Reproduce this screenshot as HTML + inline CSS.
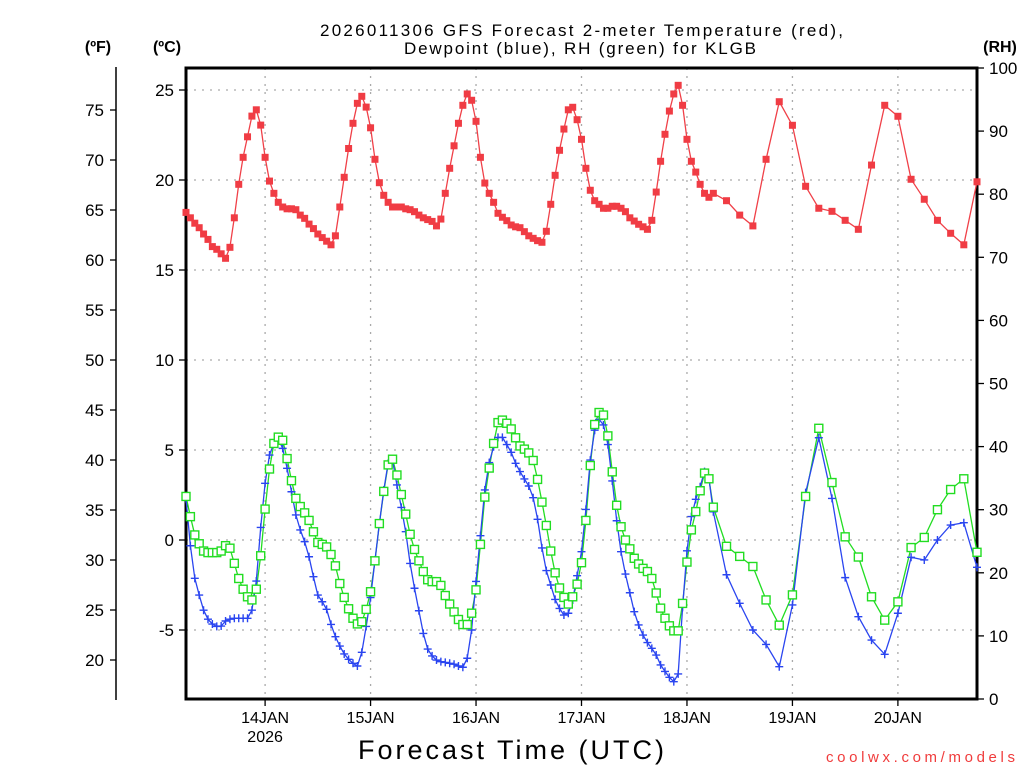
<!DOCTYPE html>
<html><head><meta charset="utf-8"><style>
html,body{margin:0;padding:0;background:#fff;}
svg{display:block;font-family:"Liberation Sans",sans-serif;}
</style></head><body>
<svg id="chart" width="1024" height="768" viewBox="0 0 1024 768">
<text x="320" y="36" font-size="17" textLength="523" lengthAdjust="spacing" fill="#000">2026011306 GFS Forecast 2-meter Temperature (red),</text>
<text x="404" y="54" font-size="17" textLength="352" lengthAdjust="spacing" fill="#000">Dewpoint (blue), RH (green) for KLGB</text>
<text x="98" y="52" font-size="16" font-weight="bold" text-anchor="middle">(ºF)</text>
<text x="167" y="52" font-size="16" font-weight="bold" text-anchor="middle">(ºC)</text>
<text x="1000" y="52" font-size="16" font-weight="bold" text-anchor="middle">(RH)</text>
<g id="grid"></g>
<g id="axes"></g>
<g id="series"></g>
<text x="358" y="759" font-size="27" textLength="306" lengthAdjust="spacing">Forecast Time (UTC)</text>
<text x="826" y="762" font-size="15" textLength="189" lengthAdjust="spacing" fill="#f03c3c">coolwx.com/models</text>
</svg>
<script>
const tempC = [18.2,17.9,17.6,17.35,17.0,16.7,16.3,16.15,15.9,15.65,
16.26,17.9,19.76,21.26,22.4,23.55,23.9,23.05,21.26,19.94,
19.26,18.76,18.5,18.4,18.4,18.35,18.05,17.87,17.55,17.3,
17.0,16.8,16.6,16.4,16.9,18.5,20.15,21.75,23.15,24.26,
24.65,24.05,22.9,21.15,19.85,19.15,18.76,18.5,18.5,18.5,
18.4,18.35,18.24,18.05,17.9,17.8,17.7,17.45,17.83,19.26,
20.65,21.9,23.15,24.15,24.78,24.43,23.26,21.26,19.83,19.26,
18.76,18.15,17.93,17.74,17.5,17.4,17.35,17.13,16.9,16.76,
16.63,16.54,17.15,18.65,20.26,21.65,22.83,23.9,24.04,23.35,
22.26,20.65,19.43,18.85,18.65,18.43,18.43,18.54,18.54,18.43,
18.24,17.9,17.72,17.54,17.4,17.26,17.76,19.33,21.04,22.54,
23.83,24.78,25.26,24.15,22.26,21.04,20.44,19.76,19.26,19.04,19.26,
18.85,18.05,17.45,21.15,24.35,23.04,19.65,18.43,18.26,17.76,17.26,20.83,24.15,23.54,20.04,18.93,17.76,17.04,16.4,19.9];
const dewC = [2.3,-0.32,-2.13,-3.06,-3.9,-4.4,-4.67,-4.8,-4.78,-4.5,
-4.4,-4.35,-4.35,-4.35,-4.35,-3.9,-2.28,0.7,3.15,4.72,
5.37,5.6,5.09,3.98,2.68,1.39,0.56,-0.09,-0.93,-2.04,
-3.06,-3.43,-3.85,-4.69,-5.37,-5.89,-6.33,-6.63,-6.85,-7.0,
-6.24,-4.8,-3.2,-1.11,0.93,2.78,4.26,4.44,3.06,1.81,
0.46,-1.3,-2.68,-3.93,-5.19,-6.06,-6.44,-6.67,-6.76,-6.8,
-6.85,-6.9,-7.0,-7.07,-6.57,-5.0,-2.3,0.24,2.78,4.3,
5.18,5.7,5.7,5.3,4.87,4.26,3.8,3.39,3.0,2.35,
1.15,-0.44,-1.7,-2.5,-3.3,-3.8,-4.17,-4.07,-3.33,-1.98,
-0.65,1.7,4.44,6.1,6.7,6.39,5.3,3.28,1.07,-0.65,
-1.89,-2.93,-3.98,-4.72,-5.28,-5.7,-6.02,-6.39,-6.94,-7.3,
-7.63,-7.87,-7.44,-3.74,-0.6,1.3,2.26,2.96,3.8,3.43,1.57,
-1.93,-3.52,-5.0,-5.8,-7.04,-3.61,2.63,5.68,2.31,-2.09,-4.26,-5.56,-6.35,-4.07,-0.96,-1.11,0,0.83,0.96,-1.52];
const rhPct = [32.1,28.9,26.0,24.6,23.45,23.2,23.2,23.2,23.45,24.3,
23.9,21.5,19.1,17.4,16.2,15.7,17.4,22.7,30.1,36.45,
40.5,41.5,41.0,38.1,34.6,31.8,30.5,29.5,28.3,26.5,
24.8,24.5,24.1,22.9,21.1,18.3,16.1,14.3,12.8,11.9,
12.25,14.2,17.0,21.9,27.8,32.9,37.1,38.0,35.5,32.4,
29.3,26.1,23.7,21.9,20.2,18.9,18.6,18.6,18.0,16.4,
15.05,13.8,12.6,11.8,11.8,13.6,17.3,24.5,32.0,36.6,
40.5,43.8,44.2,43.7,42.8,41.4,40.1,39.6,39.0,37.8,
34.8,31.2,27.5,23.45,20.0,17.6,16.1,15.05,16.2,18.2,
21.6,28.3,37.0,43.5,45.4,45.0,41.7,36.0,30.7,27.3,
25.2,23.8,22.3,21.4,20.7,20.2,19.1,16.8,14.4,12.8,
11.6,10.8,10.8,15.15,21.7,26.8,29.7,33.0,35.8,34.9,30.4,
24.2,22.6,21.0,15.7,11.7,16.5,32.1,42.9,34.3,25.7,22.5,16.2,12.5,15.4,24.0,25.6,30.0,33.2,34.9,23.25];
const dayLabels = ["14JAN","15JAN","16JAN","17JAN","18JAN","19JAN","20JAN"];
const dayHours = [18,42,66,90,114,138,162];
const cTicks = [25,20,15,10,5,0,-5];
const fTicks = [75,70,65,60,55,50,45,40,35,30,25,20];
const rhTicks = [100,90,80,70,60,50,40,30,20,10,0];

const hours = [];
for (let h = 0; h <= 120; h++) hours.push(h);
for (let h = 123; h <= 180; h += 3) hours.push(h);

const L = 186, R = 977, T = 68, B = 699;
const xS = h => L + (h / 180) * (R - L);
const yC = c => 540 - 18 * c;
const yF = f => yC((f - 32) * 5 / 9);
const yRH = r => B - (r / 100) * (B - T);
const NS = "http://www.w3.org/2000/svg";
function mk(tag, attrs, parent) {
  const e = document.createElementNS(NS, tag);
  for (const k in attrs) e.setAttribute(k, attrs[k]);
  parent.appendChild(e);
  return e;
}
const grid = document.getElementById('grid');
const axes = document.getElementById('axes');
const series = document.getElementById('series');

cTicks.forEach(c => {
  const y = yC(c);
  const g = mk('line', {x1: L, x2: R, y1: y, y2: y, stroke: '#aaa', 'stroke-width': 1.3, 'stroke-dasharray': '2,6'}, grid);
  
  
  const t = mk('line', {x1: L - 7, x2: L, y1: y, y2: y, stroke: '#000', 'stroke-width': 1.3}, axes);
  
  
  const tx = mk('text', {x: L - 12, y: y + 6, 'font-size': 17, 'text-anchor': 'end'}, axes);
  tx.textContent = c;
  
  
});
dayHours.forEach((h, i) => {
  const x = xS(h);
  const g = mk('line', {x1: x, x2: x, y1: T, y2: B, stroke: '#aaa', 'stroke-width': 1.3, 'stroke-dasharray': '2,6'}, grid);
  
  
  const t = mk('line', {x1: x, x2: x, y1: B, y2: B + 7, stroke: '#000', 'stroke-width': 1.3}, axes);
  
  
  const tx = mk('text', {x: x, y: B + 24, 'font-size': 16, 'text-anchor': 'middle'}, axes);
  tx.textContent = dayLabels[i];
  
  
});
const yr = mk('text', {x: xS(dayHours[0]), y: B + 43, 'font-size': 16, 'text-anchor': 'middle'}, axes);
yr.textContent = '2026';



const fl = mk('line', {x1: 116, x2: 116, y1: 67, y2: 700, stroke: '#000', 'stroke-width': 1.5}, axes);


fTicks.forEach(f => {
  const y = yF(f);
  const t = mk('line', {x1: 110, x2: 116, y1: y, y2: y, stroke: '#000', 'stroke-width': 1.3}, axes);
  
  
  const tx = mk('text', {x: 104, y: y + 6, 'font-size': 17, 'text-anchor': 'end'}, axes);
  tx.textContent = f;
  
  
});
rhTicks.forEach(r => {
  const y = yRH(r);
  const t = mk('line', {x1: R, x2: R + 7, y1: y, y2: y, stroke: '#000', 'stroke-width': 1.3}, axes);
  
  
  const tx = mk('text', {x: 989, y: y + 6, 'font-size': 17, 'text-anchor': 'start'}, axes);
  tx.textContent = r;
  
  
});
const frame = mk('rect', {x: L, y: T, width: R - L, height: B - T, fill: 'none', stroke: '#000', 'stroke-width': 3}, axes);



function drawLine(vals, yf, color, name) {
  const pts = vals.map((v, i) => xS(hours[i]).toFixed(1) + ',' + yf(v).toFixed(1)).join(' ');
  const pl = mk('polyline', {points: pts, fill: 'none', stroke: color, 'stroke-width': 1.3}, series);
  
  
}
drawLine(rhPct, yRH, '#22dd22', 'rh');
drawLine(dewC, yC, '#2a45f0', 'dewpoint');
drawLine(tempC, yC, '#f04048', 'temperature');

dewC.forEach((v, i) => {
  const x = xS(hours[i]), y = yC(v);
  const p = mk('path', {d: `M${x-4},${y}H${x+4}M${x},${y-4}V${y+4}`, stroke: '#2a45f0', 'stroke-width': 1.4}, series);
  
  
});
rhPct.forEach((v, i) => {
  const x = xS(hours[i]), y = yRH(v);
  const p = mk('rect', {x: x - 4, y: y - 4, width: 8, height: 8, fill: '#fff', stroke: '#22dd22', 'stroke-width': 1.4}, series);
  
  
});
tempC.forEach((v, i) => {
  const x = xS(hours[i]), y = yC(v);
  const p = mk('rect', {x: x - 3.5, y: y - 3.5, width: 7, height: 7, fill: '#f03c44'}, series);
  
  
});
</script>
</body></html>
